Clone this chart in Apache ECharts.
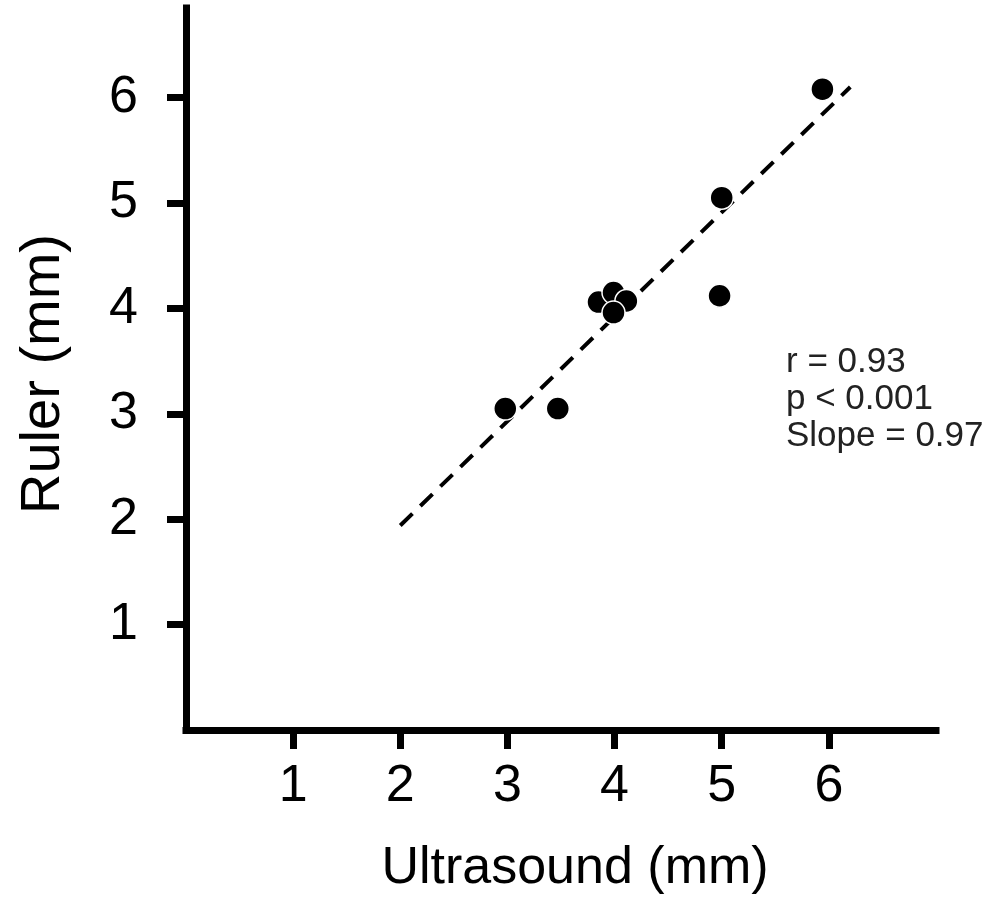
<!DOCTYPE html>
<html>
<head>
<meta charset="utf-8">
<script src="https://cdn.jsdelivr.net/npm/echarts@6/dist/echarts.min.js"></script>
<style>
  html, body { margin: 0; padding: 0; background: #fff; }
  #chart { width: 986px; height: 900px; }
</style>
</head>
<body>
<div id="chart"></div>
<script>
// Paired measurements: ultrasound (x) vs ruler (y), both in mm
const ultrasoundMm = [2.98, 3.47, 3.85, 3.99, 4.11, 3.99, 4.98, 5.00, 5.94];
const rulerMm      = [3.05, 3.05, 4.06, 4.15, 4.07, 3.96, 4.12, 5.05, 6.08];

// Regression line end points (x, y)
const fitX = [2.0, 6.2];
const fitY = [1.94, 6.10];

// Tick values shown on both axes
const tickValues = [1, 2, 3, 4, 5, 6];

// Statistics annotation
const statsLines = ['r = 0.93', 'p < 0.001', 'Slope = 0.97'];

const FONT = "'Liberation Sans', Arial, Helvetica, sans-serif";

const points = ultrasoundMm.map((x, i) => [x, rulerMm[i]]);
const fitLine = fitX.map((x, i) => [x, fitY[i]]);

const axisCommon = {
  type: 'value',
  interval: 1,
  splitLine: { show: false },
  axisLine: {
    show: true,
    onZero: false,
    lineStyle: { color: '#000', width: 7, cap: 'square' }
  },
  axisTick: {
    show: true,
    inside: false,
    length: 19,
    customValues: tickValues,
    lineStyle: { color: '#000', width: 7 }
  },
  axisLabel: {
    customValues: tickValues,
    color: '#000',
    fontSize: 52,
    fontFamily: FONT
  },
  nameLocation: 'middle'
};

const chart = echarts.init(document.getElementById('chart'), null, { renderer: 'canvas' });

chart.setOption({
  backgroundColor: '#fff',
  animation: false,
  grid: { left: 186, right: 50, top: 8, bottom: 166, containLabel: false },
  xAxis: Object.assign({}, axisCommon, {
    min: 0,
    max: 7,
    name: 'Ultrasound (mm)',
    nameGap: 113,
    nameTextStyle: { color: '#000', fontSize: 52, fontFamily: FONT, padding: [0, 0, 0, 28] },
    axisLabel: Object.assign({}, axisCommon.axisLabel, { margin: 31 })
  }),
  yAxis: Object.assign({}, axisCommon, {
    min: 0,
    max: 6.85,
    name: 'Ruler (mm)',
    nameGap: 114,
    nameTextStyle: { color: '#000', fontSize: 56, fontFamily: FONT, padding: [0, 10, 0, 0] },
    axisLabel: Object.assign({}, axisCommon.axisLabel, { margin: 48 })
  }),
  series: [
    {
      type: 'line',
      data: fitLine,
      symbol: 'none',
      silent: true,
      z: 2,
      lineStyle: { color: '#000', width: 4, type: [17, 11] }
    },
    {
      type: 'scatter',
      data: points,
      symbol: 'circle',
      symbolSize: 23,
      z: 3,
      itemStyle: { color: '#000', borderColor: '#fff', borderWidth: 1.5, opacity: 1 }
    }
  ],
  graphic: [
    {
      type: 'text',
      left: 786,
      top: 344,
      style: {
        text: statsLines.join('\n'),
        fill: '#222',
        fontSize: 35,
        lineHeight: 37,
        fontFamily: FONT
      }
    }
  ]
});
</script>
</body>
</html>
